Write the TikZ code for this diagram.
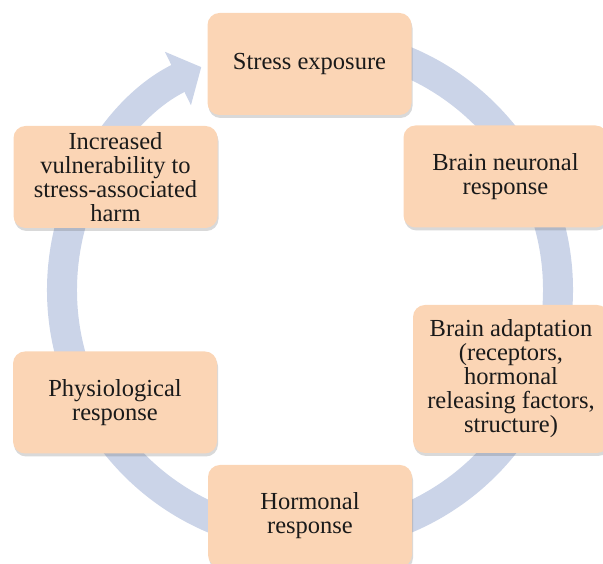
\documentclass[tikz,border=0pt]{standalone}
\usepackage{fontspec}
\setmainfont{Liberation Serif}
\usetikzlibrary{arrows.meta,shadows}
\definecolor{boxpeach}{HTML}{FBD5B5}
\definecolor{ringblue}{HTML}{CBD4E8}
\definecolor{inkdark}{HTML}{1A1A1A}
\tikzset{
  stage/.style={rectangle, rounded corners=12pt, fill=boxpeach, text=inkdark,
    align=center, minimum width=204pt, minimum height=102pt, inner sep=2pt,
    font=\fontsize{24.5}{24}\selectfont,
    drop shadow={shadow xshift=1pt, shadow yshift=-3pt, opacity=0.25, fill=black!60}},
  cycle arrow/.style={ringblue, line width=30pt, -{Triangle[width=58pt,length=26pt]}}
}
\begin{document}
\begin{tikzpicture}[x=1pt,y=1pt]
  \clip (0,0) rectangle (603,564);
  \coordinate (hub) at (310,274);

  % Cycle ring
  \draw[cycle arrow] (hub) ++(85:248) arc[start angle=85, end angle=-244, radius=248];

  % Stages
  \node[stage] (stress) at (309.5,500) {Stress exposure};
  \node[stage] (neuronal) at (505.5,387.5) {Brain neuronal\\response};
  \node[stage, minimum width=196pt, minimum height=148pt] (adaptation) at (511,185)
    {Brain adaptation\\(receptors,\\hormonal\\releasing factors,\\structure)};
  \node[stage] (hormonal) at (310,48) {Hormonal\\response};
  \node[stage] (physio) at (115,161.5) {Physiological\\response};
  \node[stage] (vulner) at (115.5,387) {Increased\\vulnerability to\\stress-associated\\harm};
\end{tikzpicture}
\end{document}
